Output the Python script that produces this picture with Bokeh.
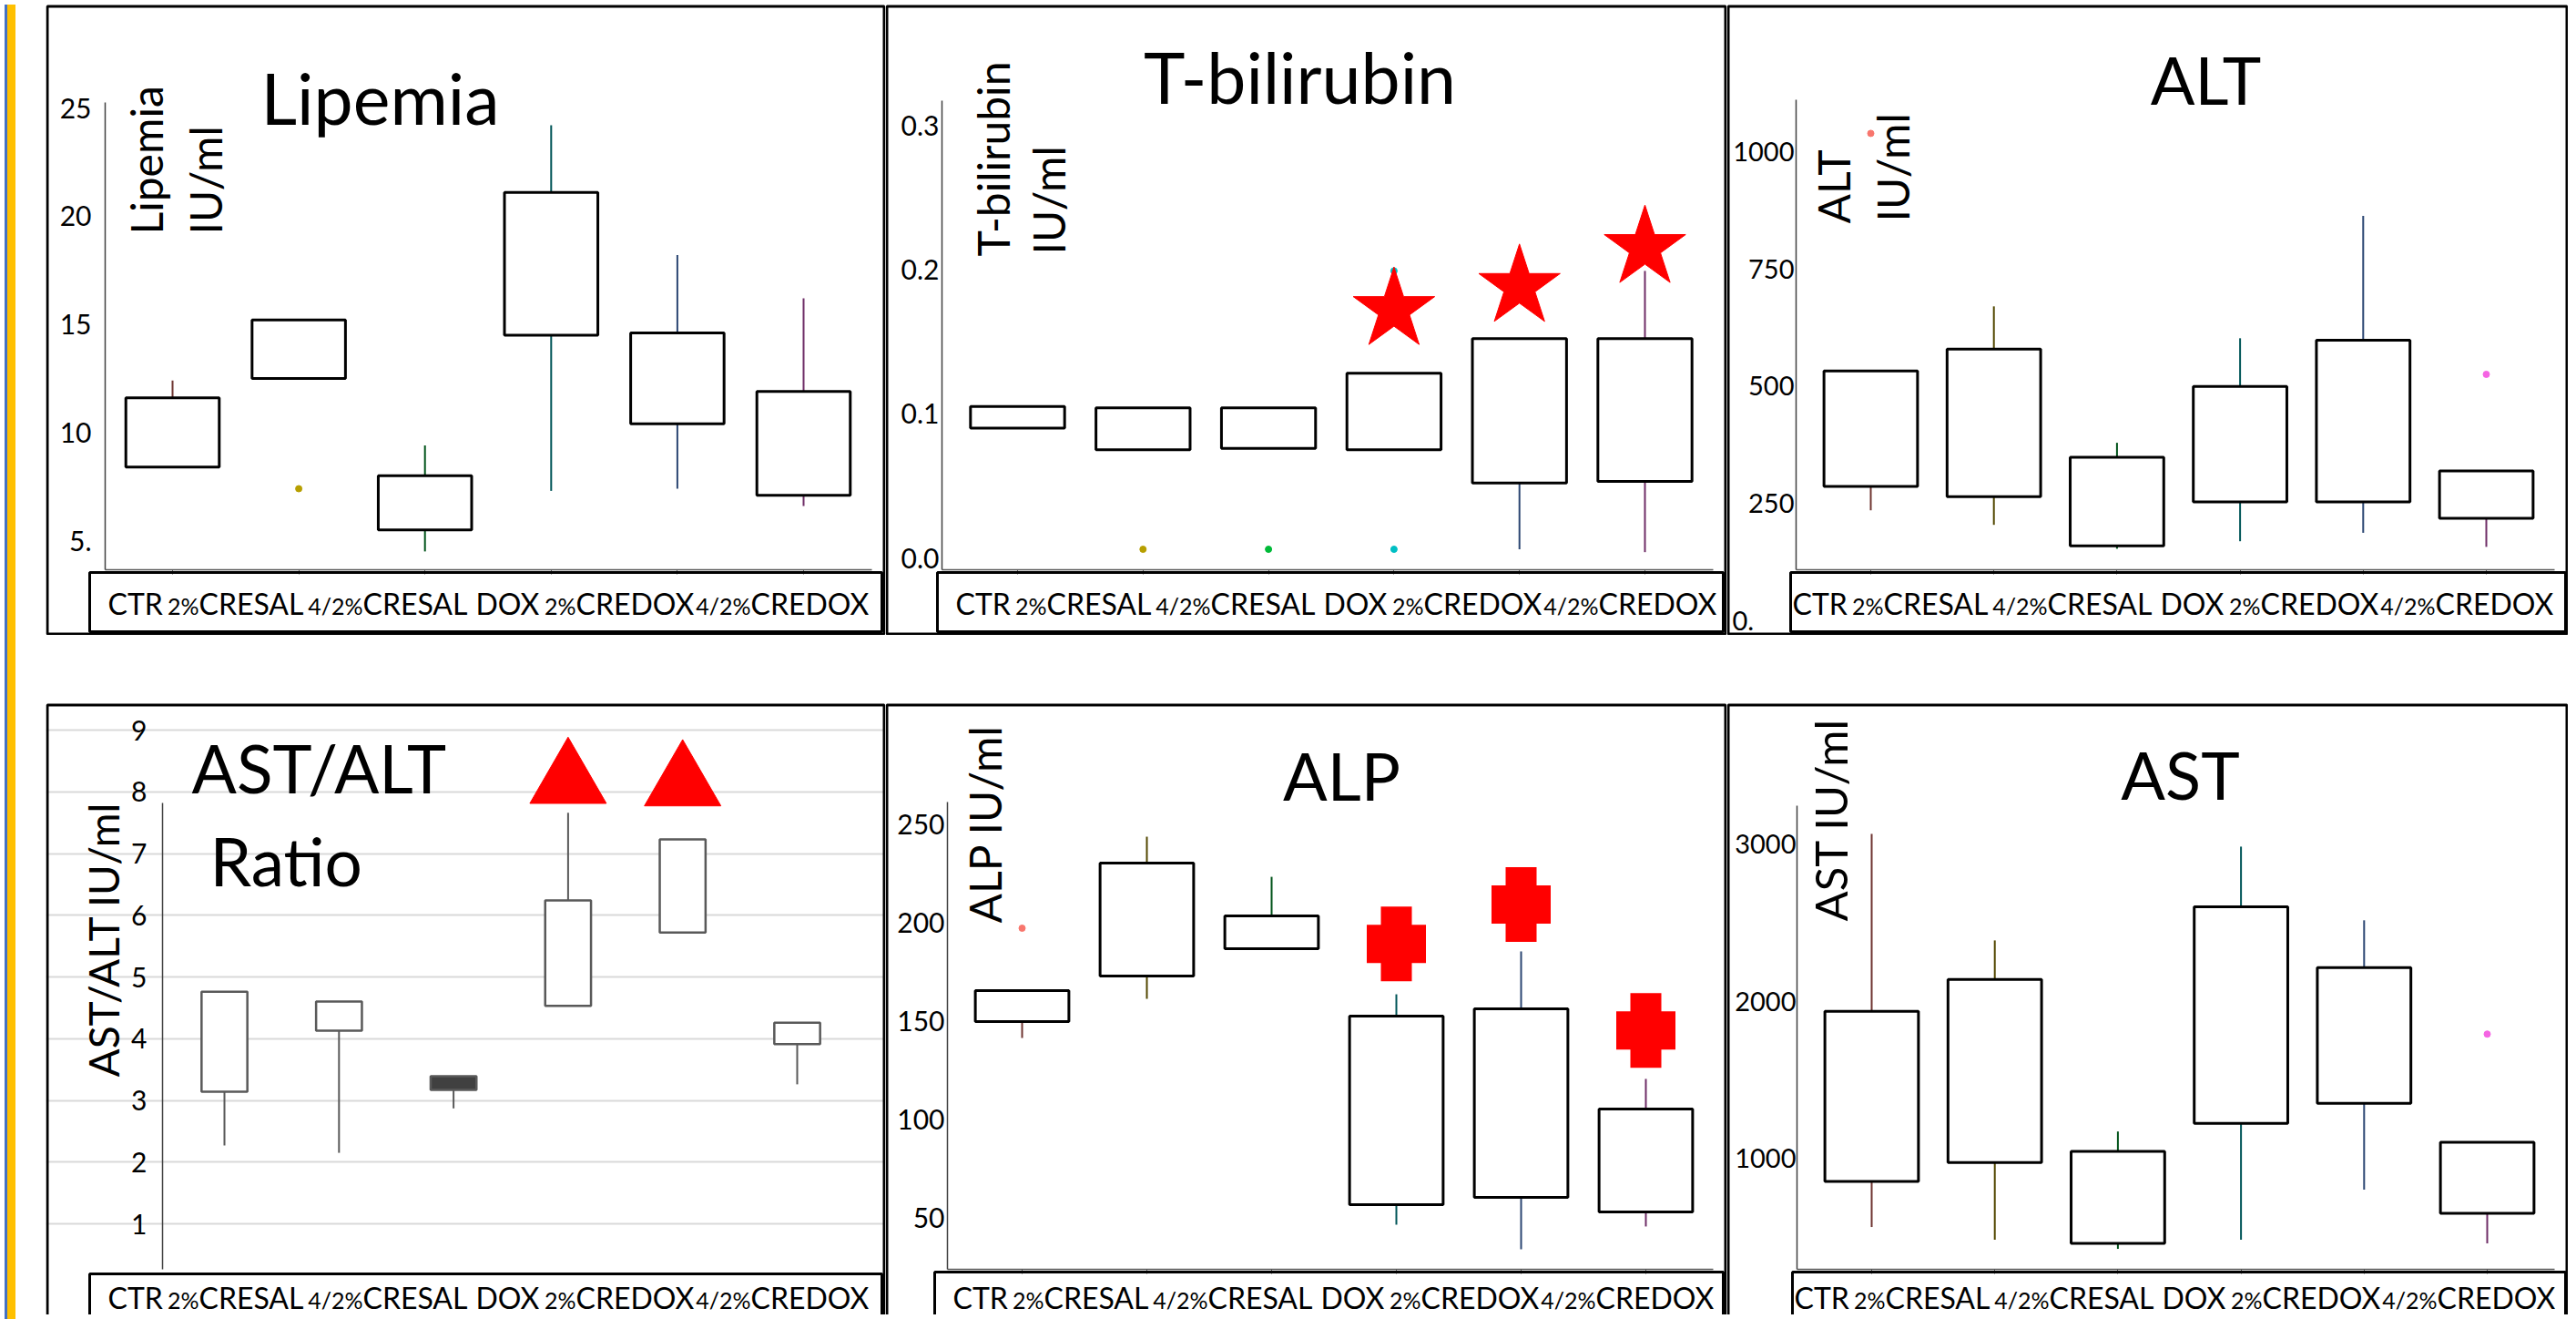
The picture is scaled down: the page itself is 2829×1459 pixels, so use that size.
import math
from bokeh.plotting import figure
from bokeh.models import (Range1d, FixedTicker, BoxAnnotation, Label, Div, ColumnDataSource)
from bokeh.layouts import row, column
from bokeh.embed import file_html
from bokeh.resources import INLINE

NAN = float("nan")
FONT = "Lato"
K_FONT = 0.39   # baseline offset from the text middle, in em (Lato)

# ---------------- data ----------------
CATEGORIES = ["CTR", "2%CRESAL", "4/2%CRESAL", "DOX", "2%CREDOX", "4/2%CREDOX"]

# Lipemia (IU/ml)
lip_q1 = [8.4, 12.5, 5.5, 14.5, 10.4, 7.1]
lip_q3 = [11.6, 15.2, 8.0, 21.1, 14.6, 11.9]
lip_lo = [NAN, NAN, 4.5, 7.3, 7.4, 6.6]
lip_hi = [12.4, NAN, 9.4, 24.2, 18.2, 16.2]
lip_out_x = ["2%CRESAL"]
lip_out_y = [7.4]
lip_ticks = [5, 10, 15, 20, 25]

# T-bilirubin (IU/ml)
tb_q1 = [0.090, 0.075, 0.076, 0.075, 0.052, 0.053]
tb_q3 = [0.105, 0.104, 0.104, 0.128, 0.152, 0.152]
tb_lo = [NAN, NAN, NAN, NAN, 0.006, 0.004]
tb_hi = [NAN, NAN, NAN, NAN, NAN, 0.199]
tb_out_x = ["2%CRESAL", "4/2%CRESAL", "DOX", "DOX"]
tb_out_y = [0.006, 0.006, 0.006, 0.199]
tb_star_x = ["DOX", "2%CREDOX", "4/2%CREDOX"]
tb_star_y = [0.172, 0.188, 0.215]
tb_ticks = [0.0, 0.1, 0.2, 0.3]

# ALT (IU/ml)
alt_q1 = [286, 264, 159, 253, 253, 218]
alt_q3 = [532, 579, 348, 499, 598, 319]
alt_lo = [235, 204, 153, 169, 187, 157]
alt_hi = [NAN, 670, 379, 602, 863, NAN]
alt_out_x = ["CTR", "4/2%CREDOX"]
alt_out_y = [1039, 525]
alt_ticks = [250, 500, 750, 1000]

# AST/ALT ratio
rat_q1 = [3.14, 4.13, 3.17, 4.53, 5.72, 3.91]
rat_q3 = [4.76, 4.60, 3.39, 6.24, 7.23, 4.26]
rat_lo = [2.27, 2.15, 2.87, NAN, NAN, 3.26]
rat_hi = [NAN, NAN, NAN, 7.66, NAN, NAN]
rat_tri_x = ["DOX", "2%CREDOX"]
rat_tri_y = [8.17, 8.13]
rat_ticks = [1, 2, 3, 4, 5, 6, 7, 8, 9]

# ALP (IU/ml)
alp_q1 = [149.5, 172.7, 186.6, 56.5, 60.2, 52.8]
alp_q3 = [165.3, 230.1, 203.2, 152.3, 156.0, 105.1]
alp_lo = [141.2, 161.1, NAN, 46.3, 33.8, 45.4]
alp_hi = [NAN, 243.5, 223.1, 163.4, 185.2, 120.4]
alp_out_x = ["CTR"]
alp_out_y = [197]
alp_cross_x = ["DOX", "2%CREDOX", "4/2%CREDOX"]
alp_cross_y = [189, 209, 145]
alp_ticks = [50, 100, 150, 200, 250]

# AST (IU/ml)
ast_q1 = [852, 973, 458, 1222, 1350, 649]
ast_q3 = [1935, 2137, 1043, 2600, 2213, 1101]
ast_lo = [562, 481, 423, 481, 800, 458]
ast_hi = [3064, 2386, 1170, 2983, 2514, NAN]
ast_out_x = ["4/2%CREDOX"]
ast_out_y = [1790]
ast_ticks = [1000, 2000, 3000]

# ---------------- styles ----------------
GROUP_COLORS = ["#F8766D", "#B79F00", "#00BA38", "#00BFC4", "#619CFF", "#F564E3"]
XPOS = list(range(len(CATEGORIES)))


def darken(hexcol, f=0.45):
    r, g, b = (int(hexcol[i:i + 2], 16) for i in (1, 3, 5))
    return "#%02x%02x%02x" % (int(r * f), int(g * f), int(b * f))


WHISKER_COLORS = [darken(c) for c in GROUP_COLORS]
# label strip: x offset (from left of the label box) where the main word starts
LABEL_MAIN_OFFSETS = [20, 120, 300, 424, 534, 726]


def split_label(cat):
    i = cat.rfind("%")
    return (cat[:i + 1], cat[i + 1:]) if i >= 0 else ("", cat)


def pos(cats):
    return [CATEGORIES.index(c) for c in cats]


def make_panel(spec, q1, q3, lo, hi, out_x, out_y, ticks, gray=False, fills=None):
    L, T, R, B = spec["canvas"]
    Tb = spec["border_top"]
    W, H = R - L, B - T
    fl = spec["axis_x"]
    fb = spec["base_y"]
    c0, c5 = spec["centers"]
    s = (c5 - c0) / 5.0
    (v1, y1), (v2, y2) = spec["yref"]

    def v_at(y):
        return v1 + (y - y1) * (v2 - v1) / (y2 - y1)

    def x_val(px):
        return (px - c0) / s

    p = figure(width=W, height=H,
               x_range=Range1d(x_val(L), x_val(R)),
               y_range=Range1d(v_at(B), v_at(T)),
               output_backend="svg", toolbar_location=None,
               min_border=0, min_border_left=0, min_border_right=0,
               min_border_top=0, min_border_bottom=0)
    p.outline_line_color = None
    p.background_fill_color = "white"
    p.border_fill_color = "white"
    p.xgrid.grid_line_color = None

    # y axis (drawn inside the panel)
    ya = p.yaxis[0]
    ya.fixed_location = x_val(fl)
    ya.ticker = FixedTicker(ticks=ticks, minor_ticks=[])
    ya.bounds = (v_at(fb), v_at(spec["axis_top"]))
    ya.axis_line_color = "#404040"
    ya.axis_line_width = 1.5
    ya.major_tick_out = 0
    ya.major_tick_in = 0
    ya.minor_tick_out = 0
    ya.major_label_standoff = spec["standoff"]
    ya.major_label_text_font = FONT
    ya.major_label_text_font_size = spec.get("tick_size", "30px")
    ya.major_label_text_color = "black"
    if "overrides" in spec:
        ya.major_label_overrides = spec["overrides"]
    if gray:
        p.ygrid.ticker = FixedTicker(ticks=ticks, minor_ticks=[])
        p.ygrid.grid_line_color = "#D9D9D9"
        p.ygrid.grid_line_width = 2
    else:
        p.ygrid.grid_line_color = None

    # x axis (line + small ticks only; category names are in the label strip)
    xa = p.xaxis[0]
    if gray:
        xa.visible = False
    else:
        xa.fixed_location = v_at(fb)
        xa.ticker = FixedTicker(ticks=XPOS, minor_ticks=[])
        xa.major_label_overrides = {i: "" for i in XPOS}
        xa.bounds = (x_val(fl), x_val(R - 15))
        xa.axis_line_color = "#595959"
        xa.axis_line_width = 1.5
        xa.major_tick_line_color = "#595959"
        xa.major_tick_out = 5
        xa.major_tick_in = 0
        xa.minor_tick_out = 0

    def sx(x):
        return x - L

    def sy(y):
        return B - y

    def text(txt, x, y, size, align="left", rotated=False):
        k = K_FONT * size
        if rotated:
            lx, ly = sx(x - k), sy(y)
        else:
            lx, ly = sx(x), sy(y - k)
        p.add_layout(Label(x=lx, y=ly, x_units="screen", y_units="screen", text=txt,
                           angle=(math.pi / 2 if rotated else 0),
                           text_font=FONT, text_font_size="%dpx" % size, text_color="black",
                           text_align=align, text_baseline="middle"))

    # boxes and whiskers
    src = ColumnDataSource(dict(x=XPOS, q1=q1, q3=q3, lo=lo, hi=hi,
                                wc=["#595959"] * 6 if gray else WHISKER_COLORS,
                                fill=fills if fills else ["white"] * 6))
    p.segment(x0="x", y0="q3", x1="x", y1="hi", line_color="wc", line_width=2, source=src)
    p.segment(x0="x", y0="q1", x1="x", y1="lo", line_color="wc", line_width=2, source=src)
    if gray:
        p.vbar(x="x", bottom="q1", top="q3", width=spec["bw"], fill_color="fill",
               line_color="#595959", line_width=2.5, source=src)
    else:
        p.vbar(x="x", bottom="q1", top="q3", width=spec["bw"], fill_color="fill",
               line_color="black", line_width=3, source=src)
    if out_x:
        cols = [GROUP_COLORS[CATEGORIES.index(c)] for c in out_x]
        p.scatter(x=pos(out_x), y=out_y, size=7, color=cols)

    # panel border
    bot = -20 if spec.get("open") else 1.5
    p.add_layout(BoxAnnotation(left=1.5, right=W - 1.5, top=sy(Tb + 1.5), bottom=bot,
                               left_units="screen", right_units="screen",
                               top_units="screen", bottom_units="screen",
                               fill_color=None, fill_alpha=0, line_color="black",
                               line_alpha=1, line_width=3, level="overlay"))
    # label strip
    lb_l, lb_t, lb_r, lb_b = spec["label_box"]
    p.add_layout(BoxAnnotation(left=sx(lb_l), right=sx(lb_r), top=sy(lb_t), bottom=sy(lb_b),
                               left_units="screen", right_units="screen",
                               top_units="screen", bottom_units="screen",
                               fill_color=None, fill_alpha=0, line_color="black",
                               line_alpha=1, line_width=3, level="overlay"))
    base = spec["label_base"]
    tx0 = spec.get("label_text_x", lb_l)
    for cat, off in zip(CATEGORIES, LABEL_MAIN_OFFSETS):
        pre, main = split_label(cat)
        xm = tx0 + off
        text(main, xm, base, 32)
        if pre:
            text(pre, xm, base, 25, align="right")
    # titles and loose texts
    for (txt, x, y, align, size) in spec["titles"]:
        text(txt, x, y, size, align=align)
    # rotated y labels
    for (txt, x, y, size) in spec["ylabels"]:
        text(txt, x, y, size, rotated=True)
    return p


def red_cross(p, xs, ys):
    # thick plus sign: horizontal bar + vertical bar
    p.scatter(x=pos(xs), y=ys, marker="dash", size=65, line_width=42, line_color="#FF0000")
    p.scatter(x=pos(xs), y=ys, marker="dash", size=82, angle=math.pi / 2, line_width=34,
              line_color="#FF0000")


TOP = (8, 705)      # canvas top/bottom (page px) of the upper row
BOT = (705, 1451)   # canvas top/bottom (page px) of the lower row

p1 = make_panel(dict(canvas=(48, TOP[0], 970, TOP[1]), border_top=13,
                     axis_x=113, axis_top=120, base_y=633,
                     centers=(187, 880), yref=((25, 126), (5, 601)), standoff=15, bw=0.74,
                     overrides={5: "5."},
                     label_box=(96, 636, 966, 701), label_base=682,
                     titles=[("Lipemia", 415, 145, "center", 77)],
                     ylabels=[("Lipemia", 177, 265, 48), ("IU/ml", 242, 265, 48)]),
                lip_q1, lip_q3, lip_lo, lip_hi, lip_out_x, lip_out_y, lip_ticks)

p2 = make_panel(dict(canvas=(970, TOP[0], 1894, TOP[1]), border_top=13,
                     axis_x=1032, axis_top=118, base_y=633,
                     centers=(1115, 1804), yref=((0.3, 145), (0.0, 620)), standoff=3, bw=0.75,
                     overrides={0.0: "0.0", 0.1: "0.1", 0.2: "0.2", 0.3: "0.3"},
                     label_box=(1027, 636, 1890, 701), label_base=682,
                     titles=[("T-bilirubin", 1425, 122, "center", 77)],
                     ylabels=[("T-bilirubin", 1107, 289, 48), ("IU/ml", 1168, 287, 48)]),
                tb_q1, tb_q3, tb_lo, tb_hi, tb_out_x, tb_out_y, tb_ticks)
p2.scatter(x=pos(tb_star_x), y=tb_star_y, marker="star", size=94, color="#FF0000")

p3 = make_panel(dict(canvas=(1894, TOP[0], 2818, TOP[1]), border_top=13,
                     axis_x=1970, axis_top=117, base_y=633,
                     centers=(2052, 2728), yref=((1000, 174), (250, 560)), standoff=2, bw=0.76,
                     tick_size="29px",
                     label_box=(1964, 636, 2815, 701), label_text_x=1946, label_base=682,
                     titles=[("ALT", 2420, 123, "center", 72), ("0.", 1900, 700, "left", 29)],
                     ylabels=[("ALT", 2030, 253, 48), ("IU/ml", 2095, 251, 48)]),
                alt_q1, alt_q3, alt_lo, alt_hi, alt_out_x, alt_out_y, alt_ticks)

p4 = make_panel(dict(canvas=(48, BOT[0], 970, BOT[1]), border_top=780,
                     axis_x=176, axis_top=889, base_y=1401,
                     centers=(244, 873), yref=((9, 809), (1, 1351)), standoff=17, bw=0.40,
                     open=True, label_box=(96, 1406, 966, 1480), label_base=1444,
                     titles=[("AST/ALT", 208, 879, "left", 73), ("Ratio", 228, 981, "left", 73)],
                     ylabels=[("AST/ALT  IU/ml", 129, 1190, 46)]),
                rat_q1, rat_q3, rat_lo, rat_hi, [], [], rat_ticks, gray=True,
                fills=["white", "white", "#404040", "white", "white", "white"])
p4.scatter(x=pos(rat_tri_x), y=rat_tri_y, marker="triangle", size=84, color="#FF0000")

p5 = make_panel(dict(canvas=(970, BOT[0], 1894, BOT[1]), border_top=780,
                     axis_x=1038, axis_top=888, base_y=1401,
                     centers=(1120, 1805), yref=((250, 912), (50, 1344)), standoff=3, bw=0.75,
                     open=True, label_box=(1024, 1404, 1890, 1480), label_base=1444,
                     titles=[("ALP", 1471, 887, "center", 72)],
                     ylabels=[("ALP IU/ml", 1098, 1021, 48)]),
                alp_q1, alp_q3, alp_lo, alp_hi, alp_out_x, alp_out_y, alp_ticks)
red_cross(p5, alp_cross_x, alp_cross_y)

p6 = make_panel(dict(canvas=(1894, BOT[0], 2818, BOT[1]), border_top=780,
                     axis_x=1971, axis_top=892, base_y=1401,
                     centers=(2053, 2729), yref=((3000, 934), (1000, 1279)), standoff=1, bw=0.76,
                     tick_size="29px",
                     open=True, label_box=(1966, 1404, 2815, 1480), label_text_x=1948, label_base=1444,
                     titles=[("AST", 2392, 886, "center", 72)],
                     ylabels=[("AST IU/ml", 2027, 1019, 49)]),
                ast_q1, ast_q3, ast_lo, ast_hi, ast_out_x, ast_out_y, ast_ticks)

stripe = Div(text="", width=40, height=1443,
             styles={"background": "linear-gradient(to right, #4472C4 0px, #4472C4 3px, "
                                   "#FFC000 3px, #FFC000 12px, #FFFFFF 12px, #FFFFFF 40px)"})

panels = column(row(p1, p2, p3), row(p4, p5, p6))
page = row(stripe, panels)

open("out.html", "w").write(file_html(page, INLINE))
